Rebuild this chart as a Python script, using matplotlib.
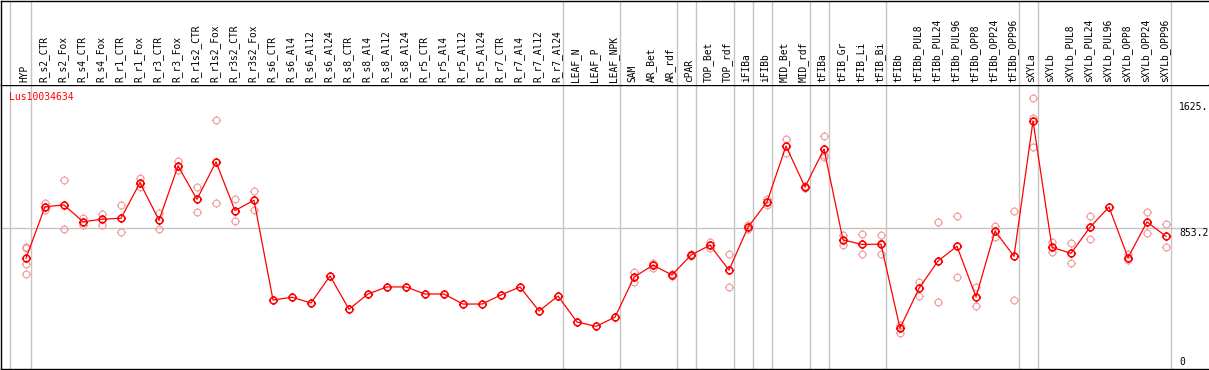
import matplotlib
matplotlib.use("Agg")
import matplotlib.pyplot as plt
from matplotlib.path import Path

# sample names, left to right
labels = [
    "HYP", "R_s2_CTR", "R_s2_Fox", "R_s4_CTR", "R_s4_Fox", "R_r1_CTR", "R_r1_Fox",
    "R_r3_CTR", "R_r3_Fox", "R_r1s2_CTR", "R_r1s2_Fox", "R_r3s2_CTR", "R_r3s2_Fox",
    "R_s6_CTR", "R_s6_Al4", "R_s6_Al12", "R_s6_Al24", "R_s8_CTR", "R_s8_Al4",
    "R_s8_Al12", "R_s8_Al24", "R_r5_CTR", "R_r5_Al4", "R_r5_Al12", "R_r5_Al24",
    "R_r7_CTR", "R_r7_Al4", "R_r7_Al12", "R_r7_Al24", "LEAF_N", "LEAF_P", "LEAF_NPK",
    "SAM", "AR_Bet", "AR_rdf", "cPAR", "TOP_Bet", "TOP_rdf", "iFIBa", "iFIBb",
    "MID_Bet", "MID_rdf", "tFIBa", "tFIB_Gr", "tFIB_Li", "tFIB_Bi", "tFIBb",
    "tFIBb_PUL8", "tFIBb_PUL24", "tFIBb_PUL96", "tFIBb_OPP8", "tFIBb_OPP24",
    "tFIBb_OPP96", "sXYLa", "sXYLb", "sXYLb_PUL8", "sXYLb_PUL24", "sXYLb_PUL96",
    "sXYLb_OPP8", "sXYLb_OPP24", "sXYLb_OPP96",
]

# mean expression per sample
means = [
    660, 989, 1000, 893, 909, 915, 1142, 902, 1248, 1036, 1274, 964, 1030,
    395, 412, 376, 548, 336, 433, 478, 478, 433, 433, 369, 369, 427, 478, 325, 420,
    255, 227, 285,
    540, 617, 554, 681, 744, 585, 858, 1019, 1375, 1114, 1356, 777, 749, 750,
    215, 469, 643, 737, 414, 834, 673,
    1535, 730, 692, 858, 987, 664, 892, 800,
]

# replicate values (empty where only one sample)
replicates = [
    [734, 724, 624, 558], [1010, 968], [1157, 845], [915, 872], [944, 872],
    [1000, 830], [1174, 1117], [949, 849], [1280, 1221], [1112, 955],
    [1539, 1010], [1036, 896], [1087, 970],
    [], [], [], [], [], [], [], [], [], [], [], [], [], [], [], [], [], [], [],
    [572, 508], [600, 632], [545, 562], [672, 690], [766, 724], [688, 476],
    [870, 846], [1040, 998], [1420, 1333], [1120, 1108], [1439, 1320, 1304],
    [809, 745], [815, 690], [809, 688, 755],
    [236, 187], [511, 422], [893, 380], [930, 543], [476, 357], [866, 794],
    [962, 395],
    [1679, 1556, 1367], [762, 702], [758, 628], [930, 783], [], [686, 648],
    [955, 820], [877, 730],
]

# last sample index of each group (grey separators)
group_ends = [0, 28, 31, 34, 35, 37, 38, 39, 41, 42, 45, 52, 53, 60]

ytick_vals = [0, 853.2, 1625]
ytick_text = ["0", "853.2", "1625."]
title = "Lus10034634"

W, H = 1209, 370
fig = plt.figure(figsize=(W / 100, H / 100), dpi=100)

left, right = 1 / W, 1208 / W
head_px = 85
ax = fig.add_axes([left, 1 / H, right - left, (369 - head_px) / H])
hx = fig.add_axes([left, (H - head_px) / H, right - left, (head_px - 0.5) / H])

x = list(range(len(labels)))
xlim = (-25 / 19, 1182 / 19)
for a in (ax, hx):
    a.set_xlim(*xlim)
    a.set_xticks([])
    a.set_yticks([])
    a.spines["right"].set_visible(False)
    for s in ("left", "top", "bottom"):
        a.spines[s].set_linewidth(1.0)
        a.spines[s].set_color("black")
ax.set_ylim(-44.6, 1763.8)
hx.set_ylim(0, 1)
hx.spines["bottom"].set_visible(False)

grey = "#c4c4c4"
seps = [-0.84] + [g + 0.24 for g in group_ends]
for s in seps:
    ax.axvline(s, color=grey, lw=1.0, zorder=1)
    hx.axvline(s, color=grey, lw=1.0, zorder=1)
ax.axhline(853.2, color=grey, lw=1.0, zorder=1)

# circle marker with small outward ticks
circ = Path.unit_circle()
tick_verts = [(0, 1), (0, 1.35), (0, -1), (0, -1.35), (1, 0), (1.35, 0), (-1, 0), (-1.35, 0)]
tick_codes = [Path.MOVETO, Path.LINETO] * 4
ticks = Path(tick_verts, tick_codes)
mark = Path.make_compound_path(circ, ticks)

rx, ry = [], []
for i, reps in enumerate(replicates):
    for v in reps:
        rx.append(i)
        ry.append(v)
ax.plot(rx, ry, linestyle="none", marker=mark, markersize=6.6,
        markerfacecolor="none", markeredgecolor="#f09c9c", markeredgewidth=0.8, zorder=2)
ax.plot(x, means, color="red", lw=0.9, marker=mark, markersize=6.6,
        markerfacecolor="none", markeredgecolor="red", markeredgewidth=1.1, zorder=3)

for i, lab in enumerate(labels):
    hx.text(i - 0.08, 0.03, lab, rotation=90, ha="center", va="bottom",
            family="DejaVu Sans Mono", fontsize=6.9, color="black")

fig.text(9.5 / W, 1 - 96.5 / H, title, color="red", ha="left", va="center",
         family="DejaVu Sans Mono", fontsize=7)

xt = (1179 - 26) / 19
for v, t in zip(ytick_vals, ytick_text):
    va = "top" if v == 853.2 else "center"
    ax.text(xt, v, t, ha="left", va=va, family="DejaVu Sans Mono",
            fontsize=7, color="black", clip_on=False)

fig.savefig("out.png", dpi=100)
